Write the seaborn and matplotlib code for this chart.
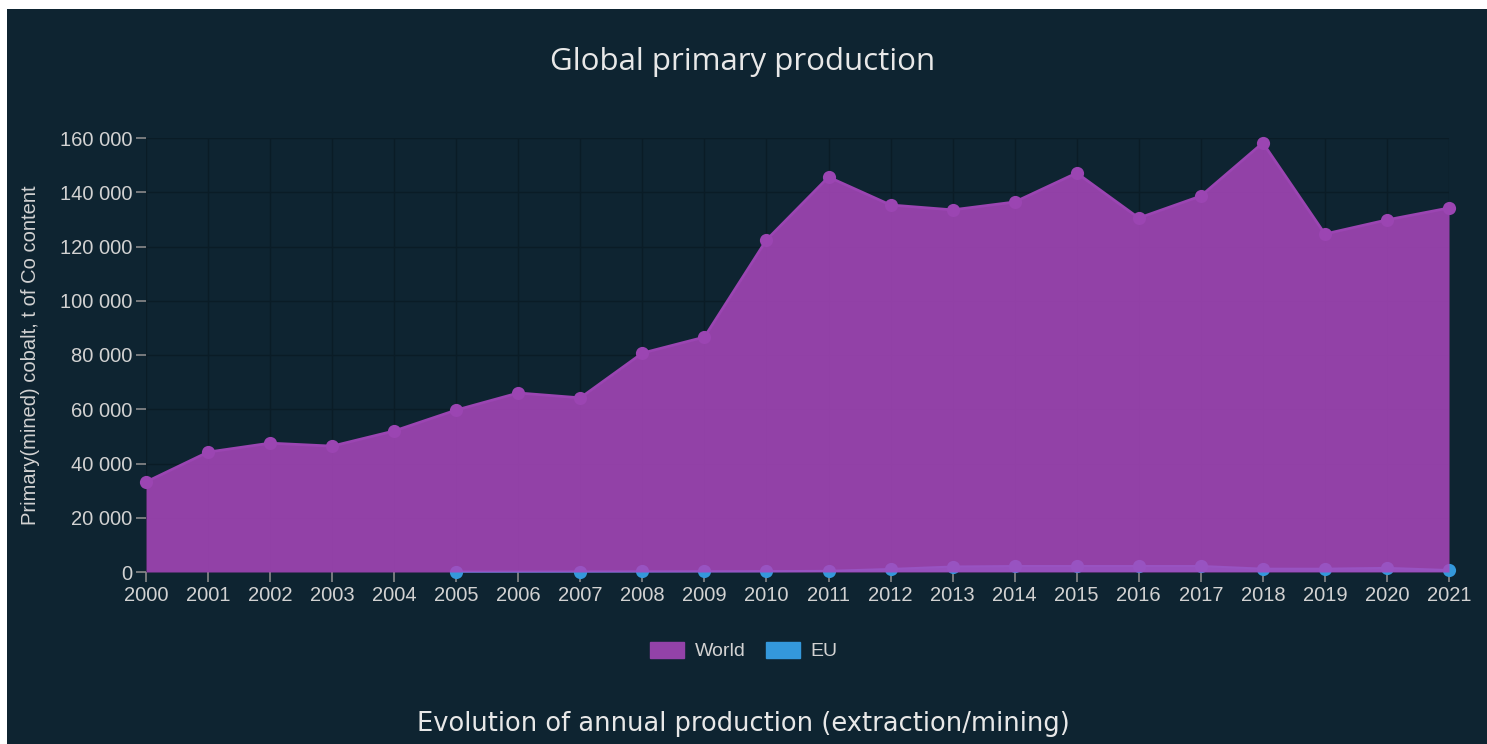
import numpy as np
import pandas as pd
import matplotlib
matplotlib.use("Agg")
import matplotlib.pyplot as plt
import matplotlib.patches as mpatches
from matplotlib.ticker import FuncFormatter
import seaborn as sns

years = list(range(2000, 2022))
world = [33200, 44200, 47500, 46400, 52000, 59700, 66000, 64200, 80700, 86600,
         122400, 145600, 135300, 133500, 136400, 147100, 130500, 138600, 158200,
         124600, 129800, 134200]
eu = [np.nan, np.nan, np.nan, np.nan, np.nan, 100, np.nan, 150, 200, 250,
      300, 400, 1100, 2000, 2200, 2200, 2200, 2200, 1200, 1200, 1500, 700]
series_names = ["World", "EU"]
y_ticks = list(range(0, 160001, 20000))
title = "Global primary production"
y_label = "Primary(mined) cobalt, t of Co content"
caption = "Evolution of annual production (extraction/mining)"

BG = "#0e2431"
GRID = "#0a1c26"
TXT = "#d2d2d2"
PURPLE_FILL = "#aa47bd"
PURPLE = "#9b45b2"
BLUE = "#3498db"

df = pd.DataFrame({"year": years, "World": world, "EU": eu})

sns.set_theme(style="dark")
plt.rcParams["font.family"] = ["Liberation Sans", "DejaVu Sans"]

fig = plt.figure(figsize=(14.87, 7.44), dpi=100, facecolor="white")
fig.patches.append(mpatches.Rectangle((7 / 1487, 0), 1 - 7 / 1487, 1 - 9 / 744,
                                      transform=fig.transFigure, facecolor=BG,
                                      edgecolor="none", zorder=-10))
ax = fig.add_axes([146 / 1487, 1 - 572 / 744, (1449 - 146) / 1487, (572 - 138) / 744])
ax.set_facecolor(BG)

# EU area + markers (beneath)
ax.fill_between(df["year"], 0, df["EU"], color=BLUE, alpha=0.85, linewidth=0, zorder=2)
sns.lineplot(data=df, x="year", y="EU", ax=ax, color=BLUE, marker="o",
             markersize=9.5, markeredgewidth=0, linewidth=1.5, zorder=2, clip_on=False)

# World area + markers
ax.fill_between(df["year"], 0, df["World"], color=PURPLE_FILL, alpha=0.85, linewidth=0, zorder=3)
sns.lineplot(data=df, x="year", y="World", ax=ax, color=PURPLE, marker="o",
             markersize=9.5, markeredgewidth=0, linewidth=2, zorder=4, clip_on=False)

ax.set_xlim(2000, 2021)
ax.set_ylim(0, 160000)
ax.set_xticks(years)
ax.set_xticklabels([str(y) for y in years])
ax.set_yticks(y_ticks)
ax.yaxis.set_major_formatter(FuncFormatter(lambda v, p: f"{int(v):,}".replace(",", " ")))
ax.grid(True, color=GRID, linewidth=1)
ax.set_axisbelow(True)
for s in ax.spines.values():
    s.set_visible(False)
ax.tick_params(axis="both", bottom=True, left=True, colors="#8a8a8a", labelcolor=TXT,
               labelsize=14.5, length=7, width=1.2, direction="out")
ax.tick_params(axis="x", pad=3)
ax.tick_params(axis="y", pad=3)
ax.set_xlabel("")
ax.set_ylabel(y_label, color=TXT, fontsize=14.5)
ax.yaxis.set_label_coords(-0.081, 0.5)

fig.text(743 / 1487, 1 - 62 / 744, title, ha="center", va="center",
         color="#e8e8e8", fontsize=22.5, family=["Open Sans", "DejaVu Sans"])
fig.text(743 / 1487, 1 - 724 / 744, caption, ha="center", va="center",
         color="#e8e8e8", fontsize=18.5, family=["DejaVu Sans"])

handles = [mpatches.Patch(facecolor="#9342a8", edgecolor="#9342a8", label="World"),
           mpatches.Patch(facecolor=BLUE, edgecolor=BLUE, label="EU")]
leg = fig.legend(handles=handles, loc="center", bbox_to_anchor=(744 / 1487, 1 - 651 / 744),
                 ncol=2, frameon=False, fontsize=14, handlelength=1.75, handleheight=0.88,
                 columnspacing=1.05, handletextpad=0.55)
for t in leg.get_texts():
    t.set_color(TXT)

fig.savefig("out.png", dpi=100, facecolor=fig.get_facecolor())
